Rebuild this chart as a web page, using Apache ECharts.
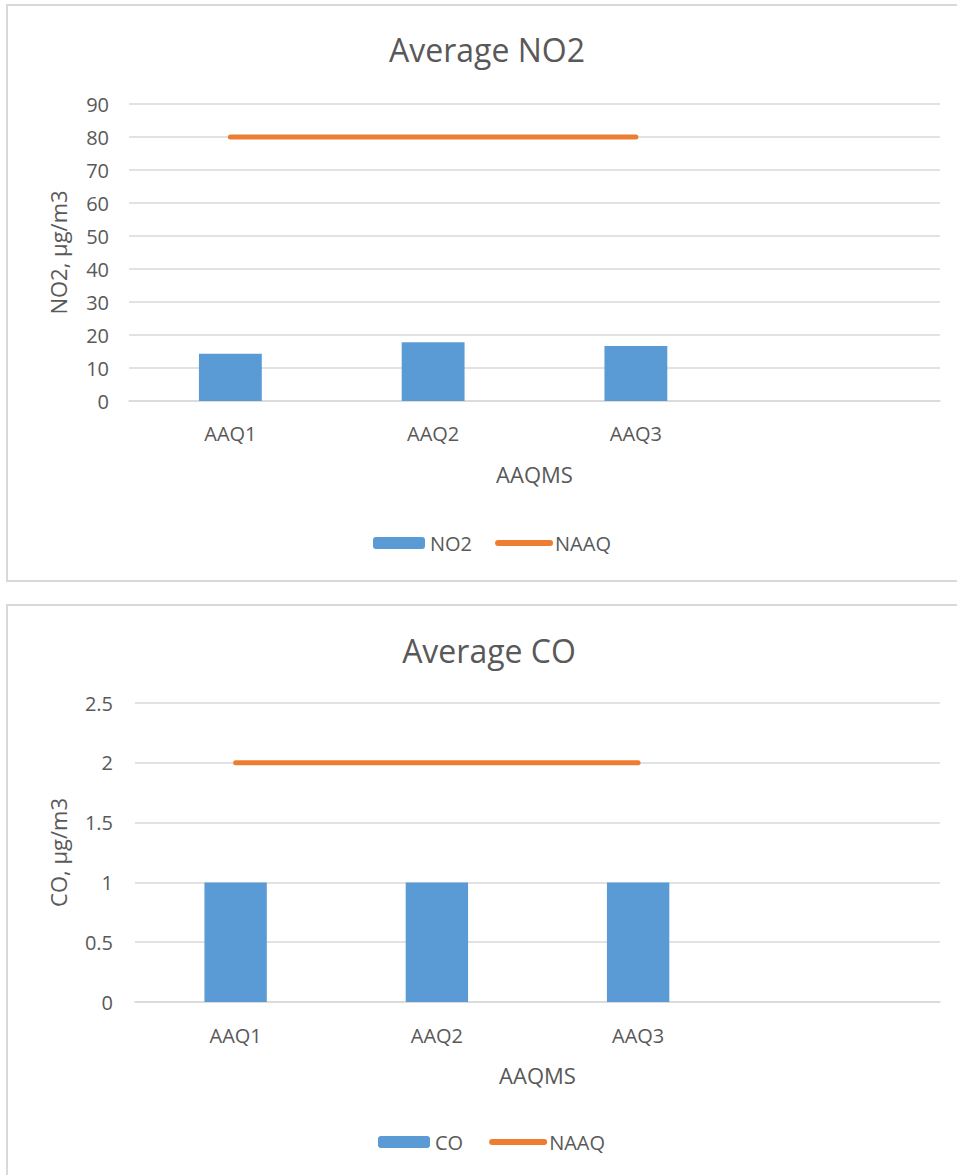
<!DOCTYPE html>
<html>
<head>
<meta charset="utf-8">
<title>Average NO2 / Average CO</title>
<script src="https://cdn.jsdelivr.net/npm/echarts@6/dist/echarts.min.js"></script>
<style>
  html, body { margin: 0; padding: 0; background: #ffffff; overflow: hidden; }
  #chart { width: 957px; height: 1175px; }
</style>
</head>
<body>
<div id="chart"></div>
<script>
// Monitoring stations (the last slot is left empty on the axis)
const stations = ['AAQ1', 'AAQ2', 'AAQ3', ''];

// Average NO2 per station, µg/m3, and the national standard
const no2Values = [14.3, 17.8, 16.7];
const no2Limit = [80, 80, 80];
const no2Ticks = { min: 0, max: 90, interval: 10 };

// Average CO per station, µg/m3, and the national standard
const coValues = [1, 1, 1];
const coLimit = [2, 2, 2];
const coTicks = { min: 0, max: 2.5, interval: 0.5 };

const FONT = '"Open Sans", "Noto Sans", sans-serif';
const TEXT = '#595959';
const GRID_LINE = '#D9D9D9';
const BAR = '#5B9BD5';
const LINE = '#ED7D31';

function titleOf(text, x, y) {
  return {
    text: text, left: x, top: y, textAlign: 'center', padding: 0,
    textStyle: { fontFamily: FONT, fontSize: 32, fontWeight: 'normal', color: TEXT, lineHeight: 32 }
  };
}

function xAxisOf(gridIndex, labelMargin, nameGap) {
  return {
    type: 'category', gridIndex: gridIndex, data: stations, boundaryGap: true,
    name: 'AAQMS', nameLocation: 'middle', nameGap: nameGap,
    nameTextStyle: { fontFamily: FONT, fontSize: 22, color: TEXT, lineHeight: 22 },
    axisLine: { show: true, lineStyle: { color: GRID_LINE, width: 1.5 } },
    axisTick: { show: false },
    axisLabel: { margin: labelMargin, fontFamily: FONT, fontSize: 20, color: TEXT, lineHeight: 20, interval: 0 },
    splitLine: { show: false }
  };
}

function yAxisOf(gridIndex, ticks, name, labelMargin, nameGap) {
  return {
    type: 'value', gridIndex: gridIndex,
    min: ticks.min, max: ticks.max, interval: ticks.interval,
    name: name, nameLocation: 'middle', nameGap: nameGap, nameRotate: 90,
    nameTextStyle: { fontFamily: FONT, fontSize: 22, color: TEXT, lineHeight: 22 },
    axisLine: { show: false },
    axisTick: { show: false },
    axisLabel: { margin: labelMargin, fontFamily: FONT, fontSize: 20, color: TEXT },
    splitLine: { show: true, lineStyle: { color: GRID_LINE, width: 1.5 } }
  };
}

// Legend: a filled swatch for the bars, a plain rounded stroke for the limit line
function legendOf(barName, x, y, gap) {
  return {
    data: [barName, { name: 'NAAQ', itemStyle: { opacity: 0 } }],
    left: x, top: y, orient: 'horizontal', padding: 0,
    itemWidth: 52, itemHeight: 12, itemGap: gap,
    textStyle: { fontFamily: FONT, fontSize: 20, color: TEXT, lineHeight: 20 },
    lineStyle: { width: 6, cap: 'round' }
  };
}

function barOf(name, values, axisIndex) {
  return {
    name: name, type: 'bar', xAxisIndex: axisIndex, yAxisIndex: axisIndex,
    data: values, barWidth: '31%',
    itemStyle: { color: BAR },
    emphasis: { disabled: true }
  };
}

function limitOf(values, axisIndex) {
  return {
    name: 'NAAQ', type: 'line', xAxisIndex: axisIndex, yAxisIndex: axisIndex,
    data: values, symbol: 'none', showSymbol: false,
    lineStyle: { color: LINE, width: 5, cap: 'round' },
    itemStyle: { color: LINE },
    emphasis: { disabled: true }
  };
}

const chart = echarts.init(document.getElementById('chart'), null, { renderer: 'svg' });

chart.setOption({
  animation: false,
  backgroundColor: '#ffffff',
  graphic: [
    { type: 'rect', shape: { x: 7, y: 5, width: 1000, height: 576 },
      style: { fill: 'none', stroke: GRID_LINE, lineWidth: 2 }, silent: true, z: -10 },
    { type: 'rect', shape: { x: 7, y: 605, width: 1000, height: 700 },
      style: { fill: 'none', stroke: GRID_LINE, lineWidth: 2 }, silent: true, z: -10 }
  ],
  title: [
    titleOf('Average NO2', 487, 33),
    titleOf('Average CO', 489, 634)
  ],
  legend: [
    legendOf('NO2', 373, 533, 23),
    legendOf('CO', 378, 1132, 26)
  ],
  grid: [
    { left: 129, right: 17, top: 104, height: 297, containLabel: false },
    { left: 135, right: 17, top: 703, height: 299, containLabel: false }
  ],
  xAxis: [
    xAxisOf(0, 22, 62),
    xAxisOf(1, 23, 62)
  ],
  yAxis: [
    yAxisOf(0, no2Ticks, 'NO2, µg/m3', 20, 60),
    yAxisOf(1, coTicks, 'CO, µg/m3', 22, 66)
  ],
  series: [
    barOf('NO2', no2Values, 0),
    limitOf(no2Limit, 0),
    barOf('CO', coValues, 1),
    limitOf(coLimit, 1)
  ]
});
</script>
</body>
</html>
